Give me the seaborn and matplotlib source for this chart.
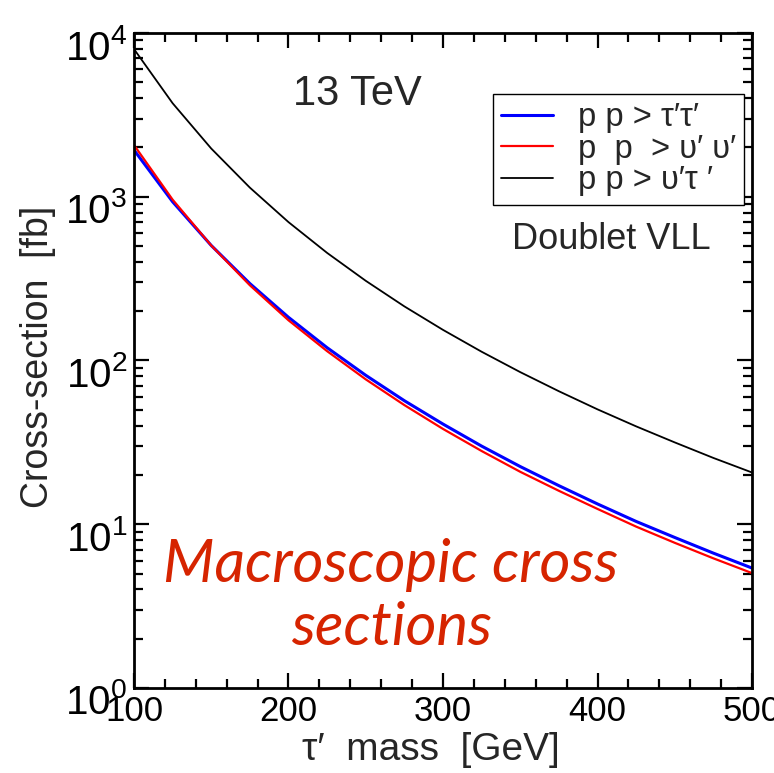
import numpy as np
import pandas as pd
import matplotlib
matplotlib.use("Agg")
import matplotlib.pyplot as plt
import matplotlib.transforms as mtransforms
import seaborn as sns
from matplotlib.lines import Line2D
from matplotlib.ticker import LogLocator, LogFormatterSciNotation, MultipleLocator, NullFormatter

# ---- data ----
mass = [100, 125, 150, 175, 200, 225, 250, 275, 300, 325, 350, 375, 400, 425, 450, 475, 500]
xs_tautau = [1930, 932, 504, 295, 183.5, 119.7, 81.2, 56.8, 40.9, 30.0, 22.5, 17.2,
             13.3, 10.4, 8.3, 6.66, 5.4]
xs_nunu = [2070, 960, 504, 288, 176, 114, 76.7, 53.4, 38.2, 28.0, 20.9, 16.0,
           12.4, 9.67, 7.7, 6.19, 5.03]
xs_nutau = [7980, 3726, 1970, 1137, 700, 454, 306.7, 214, 153.8, 113.1, 84.9, 64.9,
            50.3, 39.6, 31.6, 25.4, 20.7]
labels = ["p p > τ′τ′", "p  p  > υ′ υ′", "p p > υ′τ ′"]
colors = ["#0000ff", "#ff0000", "#000000"]
widths = [2.2, 1.6, 1.3]

df = pd.concat([
    pd.DataFrame({"mass": mass, "xs": xs_tautau, "process": labels[0]}),
    pd.DataFrame({"mass": mass, "xs": xs_nunu, "process": labels[1]}),
    pd.DataFrame({"mass": mass, "xs": xs_nutau, "process": labels[2]}),
])

sns.set_style("ticks")
plt.rcParams["font.family"] = ["Liberation Sans", "DejaVu Sans"]
plt.rcParams["mathtext.fontset"] = "custom"
plt.rcParams["mathtext.rm"] = "Liberation Sans"

fig = plt.figure(figsize=(7.74, 7.73), dpi=100)
ax = fig.add_axes([0.1731, 0.1100, 0.9716 - 0.1731, 0.9573 - 0.1100])

sns.lineplot(data=df, x="mass", y="xs", hue="process", hue_order=labels,
             palette=dict(zip(labels, colors)), ax=ax, legend=False, sort=True)
for line, lw in zip(ax.get_lines(), widths):
    line.set_linewidth(lw)

ax.set_yscale("log")
ax.set_xlim(100, 500)
ax.set_ylim(1, 1e4)

ax.xaxis.set_major_locator(MultipleLocator(100))
ax.xaxis.set_minor_locator(MultipleLocator(20))
ax.yaxis.set_major_locator(LogLocator(base=10, numticks=10))
ax.yaxis.set_minor_locator(LogLocator(base=10, subs=np.arange(2, 10), numticks=20))
ax.yaxis.set_major_formatter(LogFormatterSciNotation())
ax.yaxis.set_minor_formatter(NullFormatter())

ax.tick_params(which="both", direction="in", top=True, right=True, width=1.6,
               colors="black")
ax.tick_params(which="major", length=11)
ax.tick_params(which="minor", length=6.5)
ax.tick_params(axis="x", which="major", pad=5, labelsize=25)
ax.tick_params(axis="y", which="major", pad=5, labelsize=29)
for s in ax.spines.values():
    s.set_linewidth(2.0)
    s.set_color("black")

# shift y tick labels slightly downward, as in the reference
shift = mtransforms.ScaledTranslation(0, -0.11, fig.dpi_scale_trans)
for lab in ax.get_yticklabels():
    lab.set_transform(lab.get_transform() + shift)

ax.set_xlabel("τ′  mass  [GeV]", fontsize=28)
ax.set_ylabel("Cross-section  [fb]", fontsize=27)
ax.xaxis.set_label_coords(0.48, -0.094)
ax.xaxis.label.set_verticalalignment("center")
ax.yaxis.set_label_coords(-0.155, 0.505)
ax.yaxis.label.set_verticalalignment("center")

# legend
handles = [Line2D([], [], color=c, lw=w) for c, w in zip(colors, widths)]
leg = ax.legend(handles, labels, loc="upper left", bbox_to_anchor=(0.581, 0.907),
                borderaxespad=0, fontsize=23.5, frameon=True, fancybox=False,
                handlelength=1.6, handletextpad=0.75, labelspacing=0.02,
                borderpad=0.25)
leg.get_frame().set_edgecolor("black")
leg.get_frame().set_linewidth(1.0)
leg.get_frame().set_alpha(1)

ax.text(0.362, 0.907, "13 TeV", transform=ax.transAxes, fontsize=30,
        ha="center", va="center")
ax.text(0.773, 0.684, "Doublet VLL", transform=ax.transAxes, fontsize=26,
        ha="center", va="center")
ax.text(0.416, 0.140, "Macroscopic cross\nsections", transform=ax.transAxes,
        fontsize=43, color="#d62400", family=["Lato", "DejaVu Sans"],
        style="italic", weight="normal", ha="center", va="center", linespacing=1.2)

fig.savefig("out.png", dpi=100)
